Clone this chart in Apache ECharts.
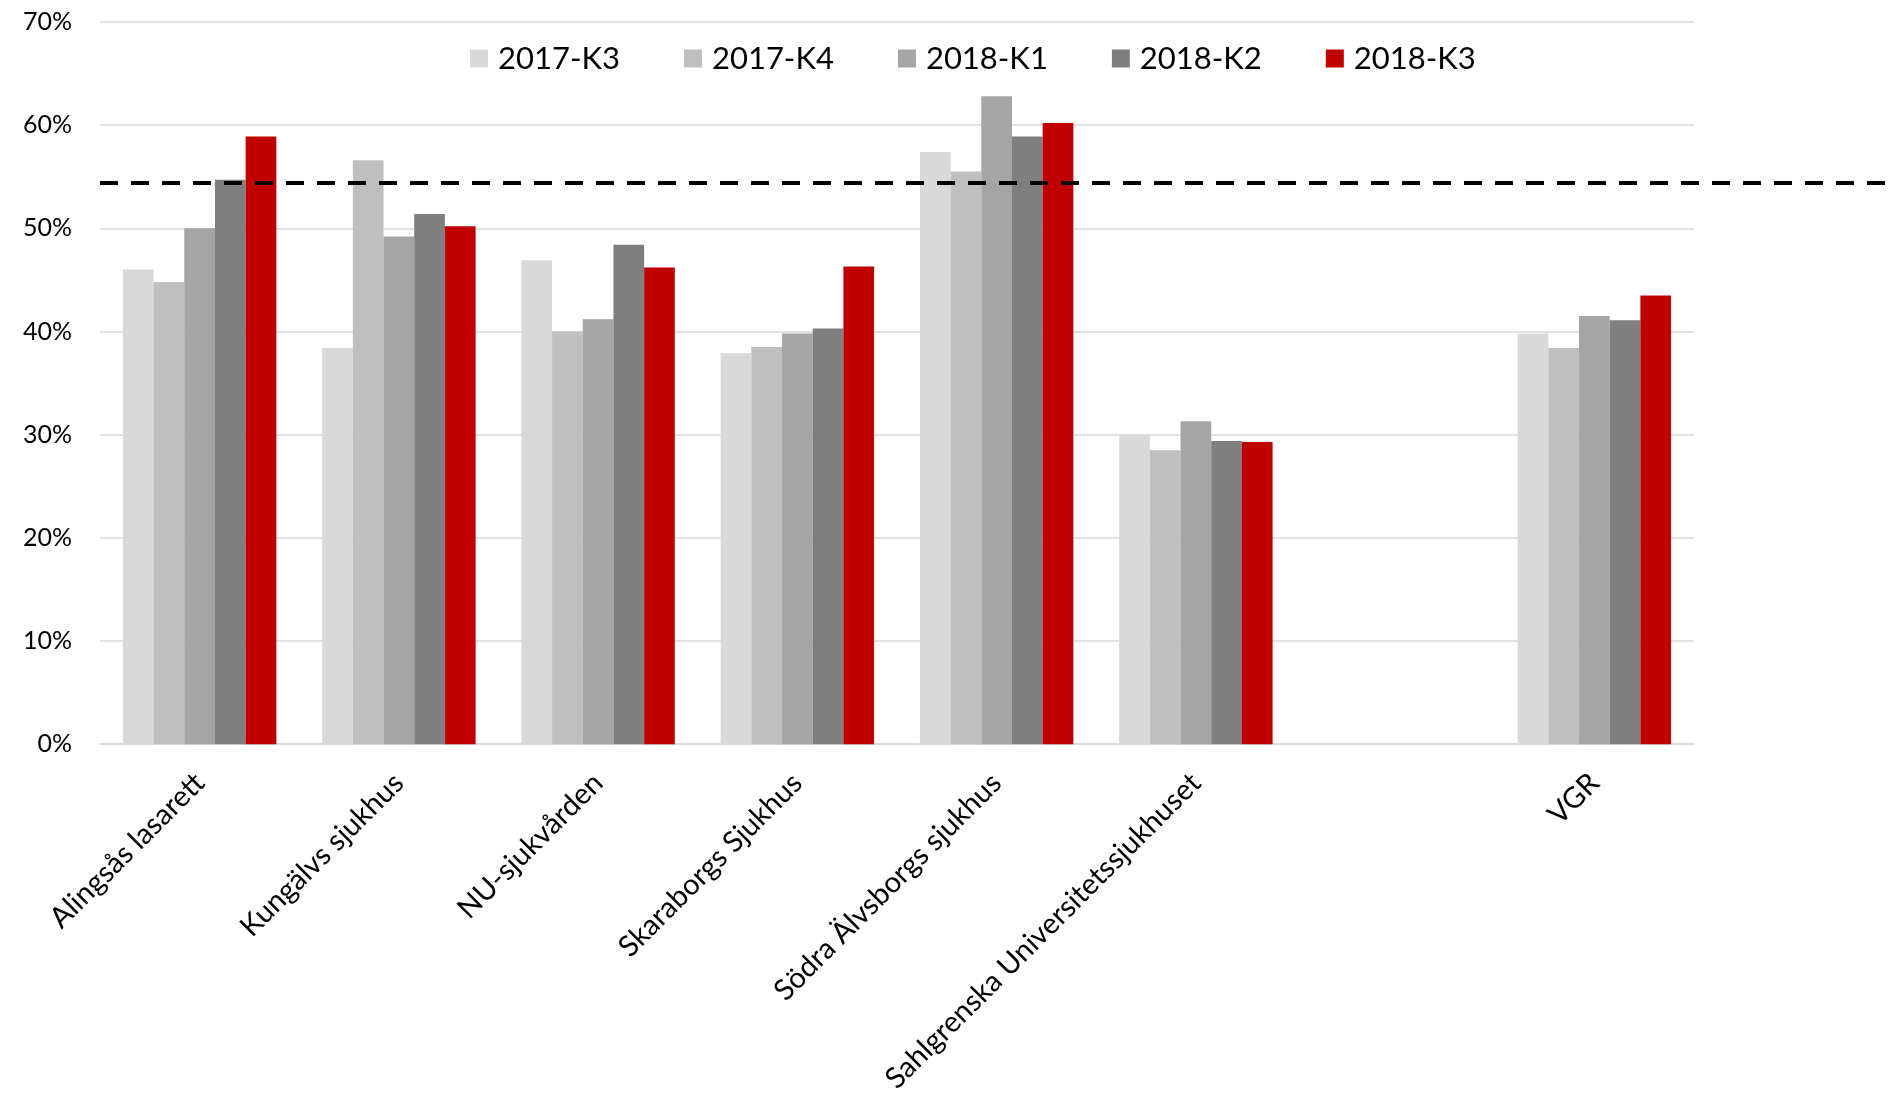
<!DOCTYPE html>
<html>
<head>
<meta charset="utf-8">
<script src="https://cdn.jsdelivr.net/npm/echarts@6/dist/echarts.min.js"></script>
<style>
html,body{margin:0;padding:0;background:#fff;}
#chart{width:1895px;height:1096px;}
</style>
</head>
<body>
<div id="chart"></div>
<script>
const categories = ['Alingsås lasarett','Kungälvs sjukhus','NU-sjukvården','Skaraborgs Sjukhus','Södra Älvsborgs sjukhus','Sahlgrenska Universitetssjukhuset','','VGR'];
const seriesNames = ['2017-K3','2017-K4','2018-K1','2018-K2','2018-K3'];
const seriesColors = ['#D9D9D9','#BFBFBF','#A5A5A5','#7F7F7F','#C00000'];
const v2017K3 = [46.0, 38.4, 46.9, 37.9, 57.4, 30.0, null, 39.8];
const v2017K4 = [44.8, 56.6, 40.0, 38.5, 55.5, 28.5, null, 38.4];
const v2018K1 = [50.0, 49.2, 41.2, 39.8, 62.8, 31.3, null, 41.5];
const v2018K2 = [54.7, 51.4, 48.4, 40.3, 58.9, 29.4, null, 41.1];
const v2018K3 = [58.9, 50.2, 46.2, 46.3, 60.2, 29.3, null, 43.5];
const seriesValues = [v2017K3, v2017K4, v2018K1, v2018K2, v2018K3];
const targetValue = 54.4;
const yTicks = {min: 0, max: 70, interval: 10};

const FONT = 'Lato, "Open Sans", sans-serif';
const chart = echarts.init(document.getElementById('chart'));

const barSeries = seriesNames.map((name, i) => ({
  name: name,
  type: 'bar',
  xAxisIndex: 0,
  yAxisIndex: 0,
  data: seriesValues[i],
  barGap: '0%',
  barCategoryGap: '23%',
  itemStyle: {color: seriesColors[i]},
  emphasis: {disabled: true}
}));

chart.setOption({
  animation: false,
  backgroundColor: '#ffffff',
  textStyle: {fontFamily: FONT},
  legend: {
    data: seriesNames,
    left: 465,
    top: 38,
    itemWidth: 18,
    itemHeight: 18,
    itemGap: 64,
    icon: 'rect',
    textStyle: {fontSize: 31, color: '#000', fontFamily: FONT, padding: [0,0,0,5]}
  },
  grid: [
    {left: 100, right: 201, top: 22, bottom: 351.5, containLabel: false},
    {left: 100, right: 0, top: 22, bottom: 351.5, containLabel: false}
  ],
  xAxis: [
    {
      type: 'category',
      gridIndex: 0,
      data: categories,
      axisLine: {show: true, lineStyle: {color: '#D9D9D9', width: 1.5}},
      axisTick: {show: false},
      axisLabel: {rotate: 45, fontSize: 29, color: '#000', margin: 34, interval: 0, fontFamily: FONT}
    },
    {
      type: 'value', gridIndex: 1, min: 0, max: 1, show: false
    }
  ],
  yAxis: [
    {
      type: 'value',
      gridIndex: 0,
      min: yTicks.min,
      max: yTicks.max,
      interval: yTicks.interval,
      axisLine: {show: false},
      axisTick: {show: false},
      splitLine: {lineStyle: {color: '#D9D9D9', width: 1.5}},
      axisLabel: {formatter: '{value}%', fontSize: 25, color: '#000', margin: 28, fontFamily: FONT}
    },
    {
      type: 'value', gridIndex: 1, min: yTicks.min, max: yTicks.max, show: false
    }
  ],
  series: barSeries.concat([{
    name: 'target',
    type: 'line',
    xAxisIndex: 1,
    yAxisIndex: 1,
    data: [[0, targetValue], [1, targetValue]],
    symbol: 'none',
    lineStyle: {color: '#000', width: 4, type: [18, 13]},
    silent: true,
    z: 5
  }])
});
</script>
</body>
</html>
